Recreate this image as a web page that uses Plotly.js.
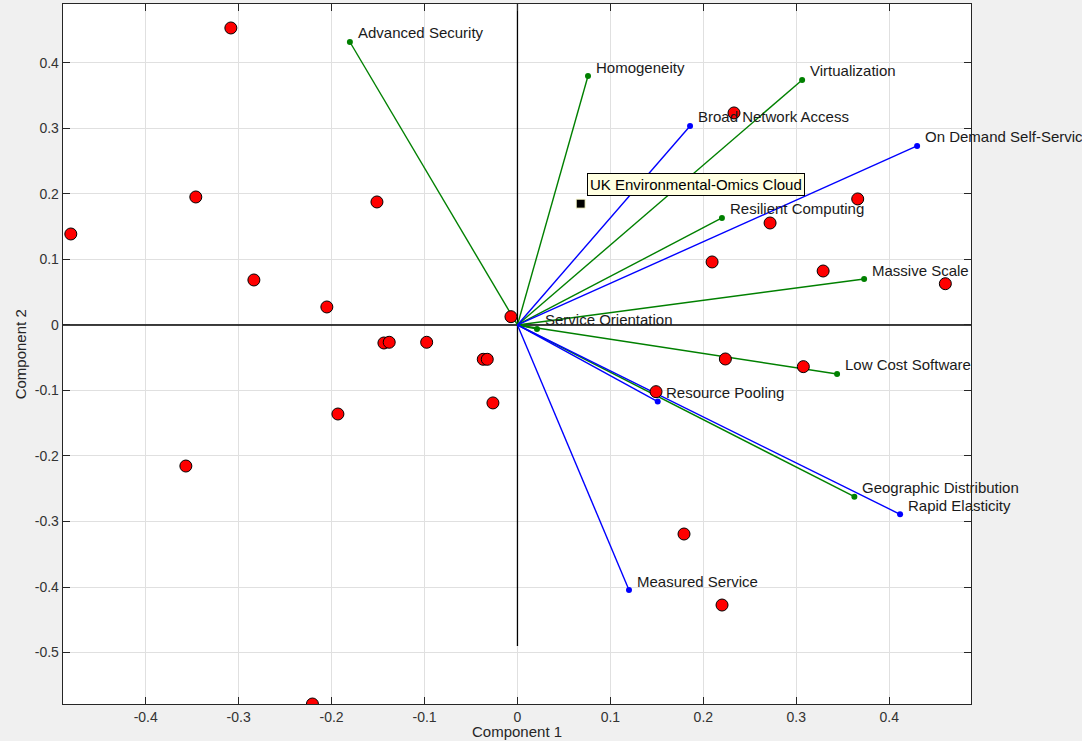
<!DOCTYPE html>
<html>
<head>
<meta charset="utf-8">
<script src="https://cdn.plot.ly/plotly-3.0.1.min.js"></script>
<style>html,body{margin:0;padding:0;background:#f0f0f0;}#chart{width:1082px;height:741px;}</style>
</head>
<body>
<div id="chart"></div>
<script>
// Scores (observations)
const scoreX = [-0.3084, -0.3461, -0.4806, -0.2836, -0.1512, -0.2051, -0.1437, -0.1380, -0.0977, -0.0368, -0.0325, -0.0070, -0.0264, -0.1932, -0.3568, -0.2206, 0.2330, 0.3661, 0.2718, 0.2094, 0.3289, 0.4604, 0.2237, 0.3076, 0.1491, 0.1792, 0.2201];
const scoreY = [0.4534, 0.1954, 0.1389, 0.0687, 0.1878, 0.0275, -0.0275, -0.0264, -0.0264, -0.0524, -0.0524, 0.0127, -0.1190, -0.1359, -0.2153, -0.5786, 0.3237, 0.1924, 0.1557, 0.0962, 0.0824, 0.0630, -0.0519, -0.0636, -0.1018, -0.3191, -0.4275];

// Variable loadings (green group)
const greenNames = ["Advanced Security", "Homogeneity", "Virtualization", "Resilient Computing", "Massive Scale", "Service Orientation", "Low Cost Software", "Geographic Distribution"];
const greenX = [-0.1803, 0.0759, 0.3063, 0.2200, 0.3730, 0.0210, 0.3439, 0.3625];
const greenY = [0.4320, 0.3800, 0.3740, 0.1634, 0.0702, -0.0061, -0.0748, -0.2621];

// Variable loadings (blue group)
const blueNames = ["Broad Network Access", "On Demand Self-Service", "Resource Pooling", "Rapid Elasticity", "Measured Service"];
const blueX = [0.1857, 0.4300, 0.1509, 0.4117, 0.1200];
const blueY = [0.3038, 0.2733, -0.1170, -0.2890, -0.4046];

// Highlighted point
const highlightName = "UK Environmental-Omics Cloud";
const highlightX = [0.0680];
const highlightY = [0.1852];

// Axes
const xRange = [-0.489, 0.488];
const yRange = [-0.5786, 0.490];
const axisLen = 0.49;
const xTicks = [-0.4, -0.3, -0.2, -0.1, 0, 0.1, 0.2, 0.3, 0.4];
const xTickText = ["-0.4", "-0.3", "-0.2", "-0.1", "0", "0.1", "0.2", "0.3", "0.4"];
const yTicks = [-0.5, -0.4, -0.3, -0.2, -0.1, 0, 0.1, 0.2, 0.3, 0.4];
const yTickText = ["-0.5", "-0.4", "-0.3", "-0.2", "-0.1", "0", "0.1", "0.2", "0.3", "0.4"];

const FONT = "Liberation Sans, Arial, Helvetica, sans-serif";
const GREEN = "rgb(0,128,0)";
const BLUE = "rgb(0,0,255)";

function rays(xs, ys) {
  const X = [], Y = [];
  xs.forEach((x, i) => { X.push(0, x, null); Y.push(0, ys[i], null); });
  return {X, Y};
}
const g = rays(greenX, greenY);
const b = rays(blueX, blueY);

const traces = [
  {x: [-axisLen, axisLen], y: [0, 0], mode: "lines", line: {color: "black", width: 1.3}, hoverinfo: "skip", showlegend: false},
  {x: [0, 0], y: [-axisLen, axisLen], mode: "lines", line: {color: "black", width: 1.3}, hoverinfo: "skip", showlegend: false},
  {x: g.X, y: g.Y, mode: "lines", line: {color: GREEN, width: 1.4}, hoverinfo: "skip", showlegend: false},
  {x: b.X, y: b.Y, mode: "lines", line: {color: BLUE, width: 1.4}, hoverinfo: "skip", showlegend: false},
  {x: greenX, y: greenY, mode: "markers", marker: {color: GREEN, size: 6}, showlegend: false},
  {x: blueX, y: blueY, mode: "markers", marker: {color: BLUE, size: 6}, showlegend: false},
  {x: scoreX, y: scoreY, mode: "markers", marker: {color: "red", size: 12, line: {color: "black", width: 1}}, showlegend: false},
  {x: highlightX, y: highlightY, mode: "markers", marker: {symbol: "square", color: "black", size: 9, line: {color: "#ffffd0", width: 1}}, showlegend: false}
];

const annotations = [];
greenNames.forEach((n, i) => annotations.push({x: greenX[i], y: greenY[i], text: n, showarrow: false, xanchor: "left", yanchor: "middle", xshift: 6, yshift: 9, font: {family: FONT, size: 15, color: "#1a1a1a"}}));
blueNames.forEach((n, i) => annotations.push({x: blueX[i], y: blueY[i], text: n, showarrow: false, xanchor: "left", yanchor: "middle", xshift: 6, yshift: 9, font: {family: FONT, size: 15, color: "#1a1a1a"}}));
annotations.push({x: highlightX[0], y: highlightY[0], text: highlightName, showarrow: false, xanchor: "left", yanchor: "bottom", xshift: 6, yshift: 8, bgcolor: "#ffffe1", bordercolor: "black", borderwidth: 1, borderpad: 2, font: {family: FONT, size: 15, color: "black"}});
annotations.push({xref: "paper", yref: "paper", x: -0.047, y: 0.5, text: "Component 2", textangle: -90, showarrow: false, xanchor: "center", yanchor: "middle", font: {family: FONT, size: 15, color: "#262626"}});
annotations.push({xref: "x", yref: "paper", x: 0, y: 0, yshift: -27, text: "Component 1", showarrow: false, xanchor: "center", yanchor: "middle", font: {family: FONT, size: 15, color: "#262626"}});

const axisCommon = {
  showgrid: true, gridcolor: "#e0e0e0", gridwidth: 1,
  zeroline: false, showline: true, linecolor: "#262626", linewidth: 1.3,
  mirror: "ticks", ticks: "inside", ticklen: 7, tickcolor: "#262626", tickwidth: 1,
  tickfont: {family: FONT, size: 14, color: "#333333"}, tickmode: "array"
};

const layout = {
  width: 1082, height: 741,
  margin: {l: 63, r: 111, t: 4, b: 37},
  paper_bgcolor: "#f0f0f0", plot_bgcolor: "white",
  showlegend: false,
  xaxis: Object.assign({}, axisCommon, {range: xRange, tickvals: xTicks, ticktext: xTickText}),
  yaxis: Object.assign({}, axisCommon, {range: yRange, tickvals: yTicks, ticktext: yTickText}),
  annotations: annotations
};

Plotly.newPlot("chart", traces, layout, {displayModeBar: false, staticPlot: true});
</script>
</body>
</html>
